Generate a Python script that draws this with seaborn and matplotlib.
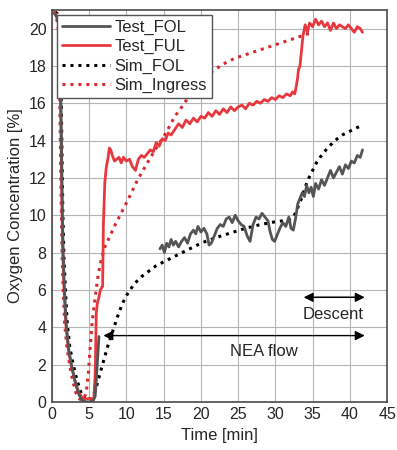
"""
Oxygen concentration in the fuel tank: test vs simulation.
"""
import numpy as np
import matplotlib
matplotlib.use("Agg")
import matplotlib.pyplot as plt
import seaborn as sns

# ---- data ----
test_ful = [
    (0.3, 20.9), (0.6, 20.7), (0.9, 20.3), (1.05, 19.0), (1.15, 16.0), (1.25, 13.0),
    (1.35, 10.0), (1.45, 8.0), (1.6, 6.2), (1.85, 4.2), (2.2, 2.8), (2.6, 1.9),
    (3.1, 1.1), (3.6, 0.5), (4.1, 0.2), (4.6, 0.15), (5.1, 0.2), (5.6, 0.1),
    (5.8, 1.5), (5.95, 4.8), (6.1, 5.3), (6.3, 5.6), (6.5, 6.0), (6.8, 6.2),
    (6.9, 9.5), (7.1, 11.8), (7.3, 12.6), (7.5, 13.0), (7.7, 13.6), (7.9, 13.5),
    (8.1, 13.2), (8.4, 12.9), (8.7, 13.0), (9.0, 13.1), (9.3, 12.8), (9.6, 13.1),
    (10.0, 12.9), (10.4, 13.0), (10.8, 12.6), (11.2, 12.4), (11.6, 13.0), (12.0, 13.2),
    (12.4, 13.1), (12.8, 13.3), (13.2, 13.5), (13.6, 13.4), (14.0, 13.9), (14.4, 13.7),
    (14.8, 14.1), (15.2, 14.0), (15.6, 14.4), (16.0, 14.3), (16.5, 14.6), (17.0, 14.9),
    (17.5, 14.7), (18.0, 15.1), (18.5, 14.9), (19.0, 15.2), (19.5, 15.0), (20.0, 15.3),
    (20.5, 15.2), (21.0, 15.5), (21.5, 15.3), (22.0, 15.6), (22.5, 15.4), (23.0, 15.7),
    (23.5, 15.5), (24.0, 15.8), (24.5, 15.6), (25.0, 15.8), (25.5, 15.9), (26.0, 15.7),
    (26.5, 16.0), (27.0, 15.9), (27.5, 16.1), (28.0, 16.0), (28.5, 16.2), (29.0, 16.1),
    (29.5, 16.3), (30.0, 16.2), (30.5, 16.4), (31.0, 16.3), (31.5, 16.5), (32.0, 16.4),
    (32.3, 16.6), (32.6, 16.5), (32.8, 16.9), (33.0, 17.4), (33.1, 17.8), (33.3, 18.0),
    (33.5, 18.8), (33.7, 19.6), (34.0, 20.2), (34.3, 19.8), (34.6, 20.3), (35.0, 20.1),
    (35.4, 20.5), (35.8, 20.2), (36.2, 20.4), (36.6, 20.1), (37.0, 20.3), (37.4, 19.9),
    (37.8, 20.3), (38.2, 20.0), (38.6, 20.2), (39.0, 20.1), (39.4, 20.0), (39.8, 20.2),
    (40.2, 20.0), (40.6, 19.8), (41.0, 20.1), (41.4, 20.0), (41.7, 19.8),
]

test_fol_start = [
    (0.35, 20.8), (0.65, 20.6), (0.95, 20.2), (1.1, 19.0), (1.2, 16.0), (1.3, 13.0),
    (1.4, 10.0), (1.5, 8.0), (1.65, 6.2), (1.9, 4.2), (2.25, 2.8), (2.65, 1.9),
    (3.15, 1.0), (3.6, 0.4), (4.0, 0.1), (4.5, 0.0), (5.0, 0.0), (5.5, 0.05),
    (5.8, 0.3), (6.0, 1.5), (6.2, 2.8), (6.3, 3.5),
]

test_fol_end = [
    (14.5, 8.2), (14.8, 8.4), (15.1, 8.0), (15.4, 8.5), (15.7, 8.3), (16.0, 8.7),
    (16.3, 8.4), (16.6, 8.6), (17.0, 8.3), (17.4, 8.6), (17.8, 8.8), (18.2, 8.5),
    (18.6, 9.0), (19.0, 9.2), (19.3, 9.0), (19.6, 9.4), (20.0, 9.1), (20.4, 9.3),
    (20.8, 9.0), (21.1, 8.4), (21.4, 8.5), (21.8, 8.9), (22.2, 9.3), (22.6, 9.5),
    (23.0, 9.4), (23.4, 9.8), (23.8, 9.9), (24.2, 9.6), (24.6, 10.0), (25.0, 9.7),
    (25.4, 9.5), (25.8, 9.4), (26.2, 8.9), (26.6, 8.6), (27.0, 9.5), (27.4, 9.9),
    (27.8, 9.8), (28.2, 10.1), (28.6, 9.9), (29.0, 9.7), (29.3, 9.1), (29.6, 8.7),
    (29.9, 8.6), (30.2, 8.9), (30.6, 9.3), (31.0, 9.6), (31.4, 9.4), (31.8, 9.9),
    (32.1, 9.3), (32.4, 9.2), (32.7, 9.8), (33.0, 10.6), (33.3, 10.9), (33.6, 11.2),
    (33.9, 11.0), (34.2, 11.6), (34.5, 11.2), (34.8, 11.5), (35.1, 11.0), (35.4, 11.7),
    (35.8, 11.4), (36.2, 11.9), (36.6, 11.6), (37.0, 12.0), (37.4, 12.4), (37.8, 12.0),
    (38.2, 12.3), (38.6, 12.6), (39.0, 12.2), (39.4, 12.7), (39.8, 12.5), (40.2, 12.9),
    (40.6, 12.8), (41.0, 13.2), (41.4, 13.1), (41.7, 13.5),
]

sim_fol = [
    (0.4, 20.9), (0.7, 20.8), (1.0, 20.3), (1.15, 19.0), (1.25, 16.0), (1.35, 13.0),
    (1.45, 10.2), (1.6, 7.8), (1.8, 6.0), (2.05, 4.2), (2.4, 2.9), (2.9, 1.9),
    (3.4, 1.1), (3.9, 0.5), (4.4, 0.15), (4.9, 0.05), (5.3, 0.15), (5.7, 0.5),
    (6.1, 1.0), (6.5, 1.6), (7.0, 2.3), (7.5, 3.0), (8.0, 3.6), (8.5, 4.2),
    (9.0, 4.8), (9.5, 5.3), (10.0, 5.7), (10.5, 6.0), (11.0, 6.3), (12.0, 6.7),
    (13.0, 7.0), (14.0, 7.3), (15.0, 7.5), (16.0, 7.7), (17.0, 7.9), (18.0, 8.1),
    (19.0, 8.3), (20.0, 8.5), (22.0, 8.8), (24.0, 9.05), (26.0, 9.3), (28.0, 9.5),
    (30.0, 9.65), (31.0, 9.7), (32.0, 9.8), (32.5, 9.95), (33.0, 10.4), (33.5, 10.9),
    (34.0, 11.5), (34.5, 12.0), (35.0, 12.4), (35.5, 12.8), (36.0, 13.1), (37.0, 13.6),
    (38.0, 14.0), (39.0, 14.3), (40.0, 14.5), (41.0, 14.7), (41.6, 14.8),
]

sim_ingress = [
    (0.2, 20.9), (0.5, 20.7), (0.8, 20.2), (0.95, 19.0), (1.05, 16.0), (1.15, 13.0),
    (1.25, 10.3), (1.35, 8.0), (1.5, 6.0), (1.7, 4.2), (2.0, 2.9), (2.4, 1.9),
    (2.8, 1.1), (3.2, 0.5), (3.7, 0.15), (4.2, 0.1), (4.6, 0.5), (4.9, 1.6),
    (5.1, 2.8), (5.4, 4.3), (5.8, 5.6), (6.2, 6.8), (6.6, 7.6), (7.1, 8.3),
    (7.8, 8.9), (8.5, 9.5), (9.4, 10.2), (10.3, 10.9), (11.5, 11.9), (12.8, 12.8),
    (14.0, 13.6), (15.3, 14.4), (16.5, 15.3), (17.8, 16.0), (19.0, 16.8), (20.0, 17.3),
    (21.5, 17.7), (23.0, 18.1), (24.5, 18.4), (26.0, 18.6), (27.5, 18.8), (29.0, 19.0),
    (30.5, 19.2), (32.0, 19.4), (33.5, 19.6), (35.0, 19.8),
]

x_ticks = [0, 5, 10, 15, 20, 25, 30, 35, 40, 45]
y_ticks = [0, 2, 4, 6, 8, 10, 12, 14, 16, 18, 20]

# annotation anchors (time [min], O2 [%])
nea_flow = (6.9, 42.0, 3.55)
descent = (33.8, 42.0, 5.6)

RED = "#e8383d"
DARK_RED = "#d42a30"
GREY = "#555555"

sns.set_style("white")
plt.rcParams["font.family"] = ["Liberation Sans", "DejaVu Sans"]

fig = plt.figure(figsize=(3.97, 4.5), dpi=100)
ax = fig.add_axes([0.131, 0.107, 0.844, 0.871])

dots = (0, (1, 1.6))

def xy(pts):
    t, v = zip(*pts)
    return np.array(t), np.array(v)

t, v = xy(sim_ingress)
sns.lineplot(x=t, y=v, ax=ax, color=DARK_RED, lw=2.2, linestyle=dots,
             label="Sim_Ingress", sort=False, estimator=None)
t, v = xy(sim_fol)
sns.lineplot(x=t, y=v, ax=ax, color="black", lw=2.2, linestyle=dots,
             label="Sim_FOL", sort=False, estimator=None)
t, v = xy(test_ful)
sns.lineplot(x=t, y=v, ax=ax, color=RED, lw=2, label="Test_FUL",
             sort=False, estimator=None)
t, v = xy(test_fol_start)
sns.lineplot(x=t, y=v, ax=ax, color=GREY, lw=2, label="Test_FOL",
             sort=False, estimator=None)
t, v = xy(test_fol_end)
sns.lineplot(x=t, y=v, ax=ax, color=GREY, lw=2, sort=False, estimator=None)

# arrows
ax.annotate("", xy=(nea_flow[0], nea_flow[2]), xytext=(nea_flow[1], nea_flow[2]),
            arrowprops=dict(arrowstyle="<|-|>", color="black", lw=1,
                            mutation_scale=14, shrinkA=0, shrinkB=0))
ax.text(28.5, 2.7, "NEA flow", ha="center", va="center", fontsize=12)
ax.annotate("", xy=(descent[0], descent[2]), xytext=(descent[1], descent[2]),
            arrowprops=dict(arrowstyle="<|-|>", color="black", lw=1,
                            mutation_scale=14, shrinkA=0, shrinkB=0))
ax.plot([descent[0] + 1.5, descent[1] - 1.5], [descent[2], descent[2]],
        color="#bbbbbb", lw=1.5)
ax.text(37.8, 4.7, "Descent", ha="center", va="center", fontsize=12)

ax.set_xlim(0, 45)
ax.set_ylim(0, 21)
ax.set_xticks(x_ticks)
ax.set_yticks(y_ticks)
ax.grid(True, color="#b5b5b5", lw=0.8)
ax.set_axisbelow(True)
ax.tick_params(length=0, labelsize=11.5, pad=4)
for s in ax.spines.values():
    s.set_color("#4a4a4a")
    s.set_linewidth(1.2)
ax.set_xlabel("Time [min]", fontsize=12)
ax.set_ylabel("Oxygen Concentration [%]", fontsize=12, labelpad=4)

handles, labels = ax.get_legend_handles_labels()
order = ["Test_FOL", "Test_FUL", "Sim_FOL", "Sim_Ingress"]
hmap = dict(zip(labels, handles))
leg = ax.legend([hmap[k] for k in order], order, loc="upper left",
                bbox_to_anchor=(0.0, 1.0), fontsize=12, frameon=True,
                fancybox=False, edgecolor="#555555", framealpha=1,
                handlelength=2.9, handletextpad=0.25, labelspacing=0.25,
                borderpad=0.3, borderaxespad=0.3)
leg.get_frame().set_linewidth(1.0)

fig.savefig("out.png", dpi=100)
